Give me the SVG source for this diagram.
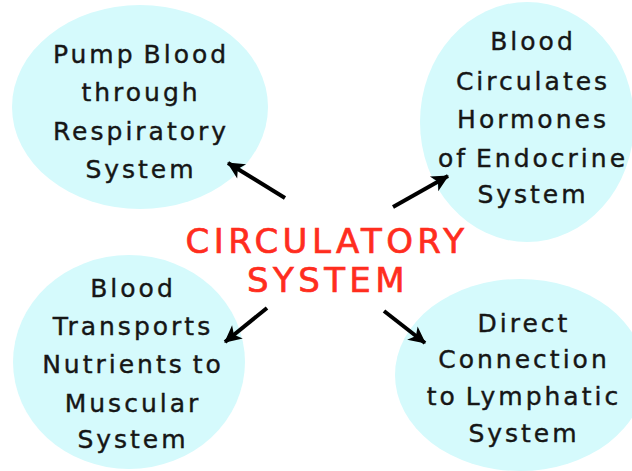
<svg xmlns="http://www.w3.org/2000/svg" width="632" height="471" viewBox="0 0 632 471">
  <style>
    .bubble { fill: #d5fafc; }
    .label { font-family: "DejaVu Sans", "Liberation Sans", sans-serif; font-size: 25px; letter-spacing: 3px; word-spacing: -3px; fill: #161616; stroke: #161616; stroke-width: 0.4; text-anchor: middle; }
    .title { font-family: "DejaVu Sans", "Liberation Sans", sans-serif; font-size: 34px; letter-spacing: 4.4px; fill: #ff2d1e; stroke: #ff2d1e; stroke-width: 0.7; text-anchor: middle; }
    .arrow { stroke: #000; stroke-width: 4; fill: none; marker-end: url(#head); }
  </style>
  <defs>
    <marker id="head" markerUnits="userSpaceOnUse" markerWidth="20" markerHeight="20" viewBox="0 0 20 20" refX="17" refY="10" orient="auto">
      <path d="M1,1.5 L18,10 L1,18.5 L5.5,10 Z" fill="#000"/>
    </marker>
  </defs>

  <rect width="632" height="471" fill="#fff"/>

  <g id="respiratory">
    <ellipse class="bubble" cx="140" cy="107" rx="128" ry="102"/>
    <text class="label" x="141" y="63">Pump Blood</text>
    <text class="label" x="141" y="101">through</text>
    <text class="label" x="141" y="140">Respiratory</text>
    <text class="label" x="141" y="178">System</text>
  </g>

  <g id="endocrine">
    <ellipse class="bubble" cx="527" cy="122" rx="107" ry="120"/>
    <text class="label" x="533" y="50">Blood</text>
    <text class="label" x="533" y="90">Circulates</text>
    <text class="label" x="533" y="128">Hormones</text>
    <text class="label" x="533" y="167">of Endocrine</text>
    <text class="label" x="533" y="203">System</text>
  </g>

  <g id="muscular">
    <ellipse class="bubble" cx="129" cy="362" rx="116" ry="107"/>
    <text class="label" x="133" y="297">Blood</text>
    <text class="label" x="133" y="335">Transports</text>
    <text class="label" x="133" y="373">Nutrients to</text>
    <text class="label" x="133" y="412">Muscular</text>
    <text class="label" x="133" y="448">System</text>
  </g>

  <g id="lymphatic">
    <ellipse class="bubble" cx="520" cy="375" rx="125" ry="96"/>
    <text class="label" x="524" y="332">Direct</text>
    <text class="label" x="524" y="368">Connection</text>
    <text class="label" x="524" y="405">to Lymphatic</text>
    <text class="label" x="524" y="442">System</text>
  </g>

  <g id="circulatory">
    <text class="title" x="327" y="253">CIRCULATORY</text>
    <text class="title" x="328" y="292">SYSTEM</text>
  </g>

  <g id="connectors">
    <line class="arrow" x1="285" y1="198" x2="228" y2="163"/>
    <line class="arrow" x1="393" y1="207" x2="448" y2="176"/>
    <line class="arrow" x1="267" y1="308" x2="225" y2="342"/>
    <line class="arrow" x1="384" y1="311" x2="425" y2="343"/>
  </g>
</svg>
